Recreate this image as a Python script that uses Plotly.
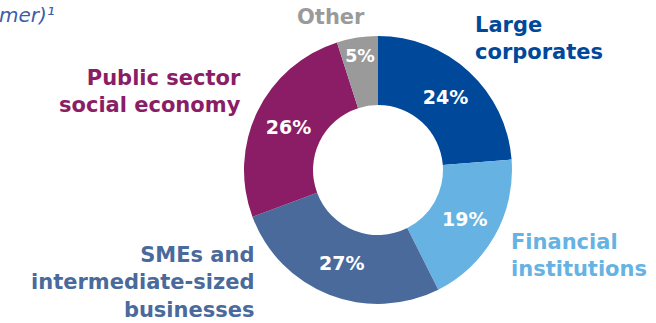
import plotly.graph_objects as go

# --- data
segments = ["Large corporates", "Financial institutions",
            "SMEs and intermediate-sized businesses",
            "Public sector social economy", "Other"]
shares = [24, 19, 27, 26, 5]
share_text = ["24%", "19%", "27%", "26%", "5%"]
colors = ["#00489A", "#66B3E3", "#4A6A9C", "#8A1D65", "#9A9A9A"]

W, H = 656, 323
FONT = "DejaVu Sans"


def px(x, y):
    return x / W, 1 - y / H


# --- donut
fig = go.Figure()
fig.add_trace(go.Pie(
    labels=segments, values=shares, text=share_text,
    textinfo="text", textposition="inside",
    insidetextorientation="horizontal",
    textfont=dict(family=FONT, size=19, color="white", weight="bold"),
    marker=dict(colors=colors, line=dict(width=0)),
    hole=0.485, sort=False, direction="clockwise", rotation=0,
    domain=dict(x=[(378 - 134) / W, (378 + 134) / W],
                y=[1 - 305 / H, 1 - 35 / H]),
    showlegend=False, hoverinfo="label+text",
))

# --- outside labels
labels = [
    ("Large<br>corporates", 473, 38, "left", colors[0]),
    ("Financial<br>institutions", 509, 255, "left", colors[1]),
    ("SMEs and<br>intermediate-sized<br>businesses", 257, 282, "right", colors[2]),
    ("Public sector<br>social economy", 243, 92, "right", colors[3]),
    ("Other", 331, 17, "center", "#9A9A9A"),
]
for txt, x, y, anchor, col in labels:
    ax, ay = px(x, y)
    fig.add_annotation(text=txt, x=ax, y=ay, xref="paper", yref="paper",
                       xanchor=anchor, yanchor="middle", align=anchor,
                       showarrow=False,
                       font=dict(family=FONT, size=21, color=col, weight="bold"))

# cut-off title fragment at top left
tx, ty = px(-3, 15)
fig.add_annotation(text="<i>mer)¹</i>", x=tx, y=ty, xref="paper", yref="paper",
                   xanchor="left", yanchor="middle", showarrow=False,
                   font=dict(family=FONT, size=20, color="#3A5EA8"))

fig.update_layout(width=W, height=H, margin=dict(t=0, r=0, l=0, b=0),
                  paper_bgcolor="white", plot_bgcolor="white")

fig.write_html("out.html", config={"displayModeBar": False},
               post_script="document.body.style.margin='0';")
